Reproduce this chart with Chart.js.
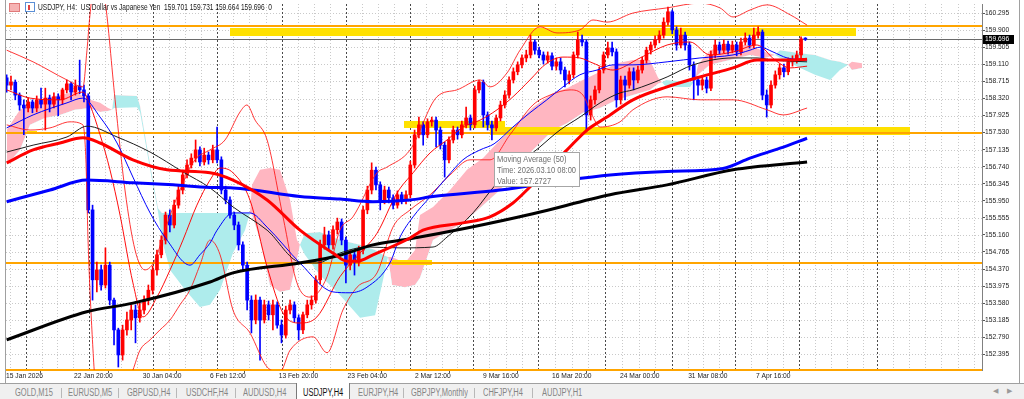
<!DOCTYPE html>
<html>
<head>
<meta charset="utf-8">
<script src="https://cdn.jsdelivr.net/npm/chart.js"></script>
<style>
html,body{margin:0;padding:0;background:#fff;width:1024px;height:399px;overflow:hidden;font-family:'Liberation Sans',Arial,sans-serif}
#wrap{position:absolute;left:0;top:0;width:1024px;height:383px}
#c{position:absolute;left:0;top:0}
#hdr{position:absolute;left:38px;top:2px;font-size:9px;line-height:10px;color:#1a1a1a;white-space:pre;transform-origin:0 0}
.ic1{position:absolute;left:9px;top:3px;width:9px;height:7px;background:#f6b4b4;border:1px solid #e07a7a}
.ic2{position:absolute;left:25px;top:2px;width:8px;height:8px;background:#fff;border:1px solid #5b8fd6}
.ic2 i{position:absolute;left:2px;top:2px;width:2px;height:5px;background:#e04040}
#tabs{position:absolute;left:0;top:383px;width:1024px;height:16px;background:#f0f0f0;border-top:1px solid #a0a0a0}
.tab{position:absolute;top:3px;font-size:10px;line-height:11px;color:#858585;white-space:pre;transform-origin:0 0}
.tab.act{color:#111}
.sep{position:absolute;top:4px;width:1px;height:10px;background:#b8b8b8}
#act{position:absolute;left:296px;top:-1px;width:52px;height:17px;background:#fff;border-left:1px solid #7a7a7a;border-right:1px solid #7a7a7a}
.arr{position:absolute;top:3px;font-size:7px;color:#9a9a9a}
</style>
</head>
<body>
<div id="wrap">
  <canvas id="c" width="1024" height="383"></canvas>
  <div class="ic1"></div><div class="ic2"><i></i></div>
  <div id="hdr"></div>
</div>
<div id="tabs"><div id="act"></div></div>
<script>
// ================= DATA =================
const symbolTitle = 'USDJPY, H4:  US Dollar vs Japanese Yen';
const firstBarIndex = -9;      // H4 bar index of first candle (0 = Mon 19 Jan 00:00)
const barsPerCandle = 2;
const firstOpen = 158.80;
const closes = [
158.63,158.70,158.40,158.17,158.10,158.24,158.10,158.29,158.19,158.33,
158.19,158.36,158.29,158.52,158.66,158.47,158.61,158.52,158.38,155.74,
154.12,154.35,154.00,154.46,153.65,152.96,152.38,152.96,153.19,153.42,
153.24,153.42,153.65,153.88,154.35,154.70,155.04,155.62,155.39,155.85,
156.20,156.55,156.78,156.94,157.13,156.85,157.01,156.90,157.13,156.90,
156.20,155.97,155.62,155.39,154.93,154.46,153.65,153.19,153.65,153.19,
153.54,153.31,153.54,153.07,152.84,153.42,153.54,153.24,152.96,153.31,
153.54,153.65,154.12,154.93,155.16,154.93,155.28,155.46,155.04,154.46,
154.70,154.53,154.81,155.74,156.20,156.66,156.32,155.97,156.20,156.02,
155.85,156.09,155.97,156.09,156.78,157.48,157.71,157.48,157.78,157.82,
157.59,157.24,156.90,157.36,157.59,157.48,157.71,157.87,157.71,158.52,
158.70,157.94,157.71,157.64,157.87,158.17,158.40,158.75,158.94,159.10,
159.26,159.33,159.63,159.44,159.33,159.21,159.31,159.07,159.17,158.98,
158.75,158.87,159.33,159.68,159.63,157.94,158.29,158.52,158.98,159.33,
159.49,159.40,158.29,158.75,158.63,158.94,158.75,158.98,159.21,159.44,
159.56,159.68,159.79,160.09,160.33,159.91,159.56,159.79,159.56,159.10,
158.75,158.63,158.75,158.56,159.33,159.56,159.44,159.58,159.44,159.56,
159.40,159.63,159.72,159.56,159.79,159.86,158.40,158.17,158.63,158.87,
159.03,158.94,159.17,159.21,159.33,159.701,159.696];
const highs = [
158.87,158.84,158.75,158.45,158.29,158.33,158.29,158.38,158.56,158.56,
158.40,158.45,158.43,158.56,158.75,158.70,158.75,159.21,158.63,158.43,
155.85,154.53,154.46,154.86,154.53,153.70,153.00,153.07,153.37,153.54,
153.54,153.58,153.75,154.00,154.44,154.81,155.14,155.69,155.74,155.97,
156.29,156.66,156.90,157.04,157.36,157.20,157.17,157.08,157.24,157.66,
156.97,156.29,156.04,155.69,155.46,155.00,154.53,153.75,153.77,153.72,
153.65,153.63,153.65,153.61,153.19,153.51,153.65,153.61,153.31,153.37,
153.65,153.75,154.21,155.04,155.34,155.25,155.37,155.55,155.53,155.11,
154.81,154.79,154.90,155.83,156.29,156.83,156.73,156.39,156.29,156.27,
156.09,156.18,156.15,156.18,156.87,157.59,157.89,157.78,157.85,157.89,
157.89,157.66,157.31,157.43,157.68,157.66,157.80,158.12,157.94,158.61,
158.75,158.75,158.01,157.80,157.94,158.26,158.50,158.82,159.03,159.17,
159.33,159.44,159.79,159.68,159.51,159.40,159.40,159.38,159.26,159.26,
159.05,158.96,159.40,159.86,159.79,159.68,158.38,158.61,159.05,159.40,
159.63,159.63,159.47,158.84,158.84,159.03,159.03,159.07,159.28,159.51,
159.63,159.77,159.89,160.19,160.44,160.37,159.98,159.95,159.86,159.63,
159.17,158.82,158.84,158.82,159.42,159.68,159.63,159.68,159.65,159.65,
159.63,159.72,159.84,159.79,159.95,159.98,159.91,158.52,158.73,158.96,
159.12,159.12,159.26,159.31,159.42,159.75,159.731];
const lows = [
158.47,158.52,158.29,158.05,157.48,158.01,157.99,158.01,158.10,157.59,
158.01,158.10,157.92,158.19,158.45,158.29,158.40,158.43,158.24,155.67,
153.65,153.84,153.88,153.93,153.54,152.61,152.10,152.26,152.84,152.96,
152.66,153.14,153.33,153.54,153.79,154.23,154.63,154.95,155.23,155.32,
155.78,156.11,156.48,156.71,156.85,156.76,156.78,156.80,156.83,156.83,
156.11,155.88,155.55,155.28,154.81,154.35,153.42,152.89,153.10,152.26,
153.12,153.19,152.96,153.00,152.66,152.77,153.33,153.14,152.73,152.87,
153.24,153.44,153.58,154.02,154.83,154.81,154.83,155.18,154.93,154.05,
154.35,154.23,154.44,154.72,155.65,156.11,156.20,155.74,155.88,155.90,
155.76,155.78,155.88,155.88,156.02,156.71,157.41,157.24,157.41,157.68,
157.20,157.15,156.50,156.83,157.29,157.38,157.41,157.64,157.59,157.64,
158.45,157.66,157.59,157.36,157.57,157.80,158.10,158.33,158.68,158.87,
159.03,159.17,159.26,159.35,159.26,159.12,159.14,158.98,158.98,158.89,
158.59,158.66,158.80,159.26,159.54,157.55,157.82,158.19,158.45,158.91,
159.26,159.31,158.12,158.19,158.29,158.56,158.52,158.68,158.91,159.14,
159.35,159.49,159.61,159.72,160.02,159.82,159.44,159.49,159.44,158.98,
158.29,158.40,158.52,158.45,158.50,159.26,159.35,159.38,159.35,159.38,
159.31,159.33,159.56,159.49,159.49,159.72,158.29,157.89,158.10,158.56,
158.77,158.82,158.87,159.07,159.14,159.26,159.664];

// moving averages (bar index, price)
const maRedX = [-9,3.3,15.8,26.5,34.5,49.8,65.7,85.7,96.4,112.3,127.6,143.0,149.5,154.2,161.6,178.9,184.9,203.5,216.1,226.8,234.7,242.6,252.0,261.3,270.6,282.7,298.6,313.9,329.3,340.5,354.5,363.8];
const maRedY = [156.83,157.13,157.29,157.41,157.29,156.90,156.67,156.60,156.43,155.97,155.27,154.74,154.55,154.55,154.70,155.09,155.27,155.44,155.58,155.90,156.27,156.67,157.13,157.59,157.89,158.29,158.59,158.82,159.03,159.21,159.21,159.23];
const maBlueX = [-9,11.2,28.3,49.8,68.5,85.7,96.4,127.6,146.3,161.6,178.9,189.5,220.8,251.9,272.0,298.6,324.6,337.2,351.2,363.8];
const maBlueY = [155.93,156.20,156.43,156.37,156.32,156.26,156.25,156.05,155.99,155.93,155.97,156.05,156.20,156.43,156.55,156.63,156.70,156.94,157.17,157.40];
const maBlackX = [-9,28.3,49.8,85.7,96.4,127.6,146.3,161.6,178.9,205.4,236.1,272.0,298.6,329.3,363.8];
const maBlackY = [152.73,153.38,153.58,154.07,154.28,154.51,154.69,154.93,155.07,155.32,155.65,156.09,156.32,156.67,156.85];
const ma50X = [-9,3.3,19.1,26.5,34.5,42.4,49.8,57.8,65.7,76.4,81.0,85.7,89.0,96.4,104.3,112.3,127.6,143.0,150.9,158.8,169.5,174.2,180.3,188.2,196.1,203.5,211.5,218.0,226.8,234.7,242.6,250.1,258.0,266.0,273.4,282.7,298.6,313.9,329.3,337.2,341.9,347.9,354.5,363.8];
const ma50Y = [157.64,157.94,158.22,158.33,157.89,157.29,156.50,155.67,155.04,154.46,154.70,154.97,155.27,155.67,155.67,155.34,154.51,153.84,153.82,153.95,154.51,155.11,155.58,156.04,156.50,156.90,157.13,157.27,157.66,157.99,158.29,158.59,158.87,158.98,159.10,159.10,159.17,159.26,159.33,159.44,159.51,159.40,159.26,159.21];
const ma100X = [-9,3.3,19.1,28.4,42.4,57.8,73.1,85.7,96.4,112.3,127.6,135.5,146.2,158.8,174.2,189.6,196.1,208.2,219.4,239.4,248.7,258.0,267.4,276.7,282.7,298.6,310.7,329.3,340.5,347.9,363.8];
const ma100Y = [157.08,157.24,157.43,157.68,157.43,157.08,156.62,156.25,155.81,155.27,154.53,154.51,154.74,154.88,154.86,154.88,155.11,155.67,156.36,157.20,157.59,157.89,158.22,158.45,158.52,158.82,159.10,159.26,159.26,159.21,159.17];
// bollinger bands
const bbUpX = [-9,3.3,19.1,26.5,28.4,29.8,32.1,34.5,36.8,41.5,46.1,50.8,55.4,60.1,64.7,71.7,78.7,85.7,92.7,99.7,102.9,106.7,112.3,119.7,126.2,132.3,140.2,146.2,152.3,163.5,168.1,178.9,191.4,200.7,211.5,216.1,224.0,230.1,239.4,247.3,258.0,264.1,270.6,282.7,298.6,313.9,323.2,329.3,337.2,345.1,355.9,363.8];
const bbUpY = [159.44,159.17,158.75,158.59,159.44,160.26,161.07,161.07,160.60,158.29,156.20,154.81,154.35,154.58,155.27,156.20,156.90,157.13,157.36,158.01,158.17,157.82,157.36,155.58,154.05,153.72,154.19,155.27,155.58,156.60,156.73,157.13,158.36,158.52,158.75,158.59,158.91,159.44,159.98,159.84,159.91,160.14,160.09,160.30,160.42,160.53,160.42,160.21,160.37,160.49,160.26,160.02];
const bbMidX = [-9,1.9,15.8,26.5,29.8,34.5,39.1,43.8,49.8,54.5,61.0,67.1,73.1,79.6,85.7,90.4,96.4,104.3,112.3,119.7,127.6,135.5,146.2,155.6,163.5,172.8,180.3,188.2,196.1,203.5,211.5,219.4,226.8,234.7,242.6,250.1,258.0,264.1,273.4,286.0,298.6,309.3,318.6,329.3,340.5,348.9,355.9,363.8];
const bbMidY = [158.52,158.33,158.29,158.47,158.17,157.48,156.67,155.62,154.05,153.26,153.72,154.35,155.04,155.85,156.43,156.71,156.60,155.97,154.42,153.35,153.12,153.26,154.19,154.74,155.20,156.13,156.60,157.06,157.36,157.66,157.82,158.06,158.36,158.75,159.14,159.28,159.26,159.14,158.98,159.26,159.56,159.63,159.33,159.40,159.56,159.21,159.03,159.07];
const bbLowX = [-9,1.9,11.2,20.5,26.5,27.9,28.9,30.7,32.6,39.1,46.1,49.8,53.1,57.8,62.4,67.1,71.7,76.4,81.0,85.7,90.4,96.4,104.3,112.3,118.3,123.0,133.7,140.2,147.6,154.2,163.5,170.9,178.9,188.2,197.5,206.8,216.1,225.4,236.1,244.1,253.4,259.4,263.6,267.4,276.7,282.7,298.6,313.9,329.3,345.1,352.6,363.8];
const bbLowY = [157.71,157.59,157.64,157.78,157.71,156.90,155.04,152.96,151.57,150.87,151.57,152.03,152.49,152.73,152.96,153.19,153.54,153.89,154.46,155.04,154.70,153.42,152.89,152.10,151.99,152.49,152.80,152.43,153.42,153.95,154.28,155.34,155.74,156.09,156.55,156.90,156.90,157.48,158.17,158.40,158.52,158.40,157.94,157.66,157.78,158.06,158.36,158.29,158.29,158.06,157.94,158.10];
// ichimoku cloud (senkou spans, already shifted forward)
const cloudX = [-9,-2.8,1.9,8.8,15.8,22.8,29.8,34.5,38.2,40.1,41.0,51.7,53.1,55.4,58.7,61.5,63.3,67.1,74.1,81.0,85.7,90.4,96.4,102.0,104.3,105.3,109.0,113.6,118.3,123.0,126.2,127.6,129.9,136.9,146.2,155.6,162.6,166.3,168.6,170.5,176.5,181.2,183.5,189.6,197.5,205.4,212.9,220.8,228.7,236.1,245.5,252.0,259.4,267.4,275.3,282.7,290.6,294.4,296.2,298.1,309.3,311.6,313.0,318.6,327.9,337.2,344.2,348.9,351.2,360.6,367.5,374.5,379.1,382.9,384.7,389.4];
const spanA = [157.59,158.06,158.17,158.33,158.40,158.47,158.29,158.22,158.10,158.06,158.10,158.12,158.01,157.36,156.43,155.69,155.04,154.35,153.89,153.49,153.54,153.89,154.74,155.27,155.67,156.32,156.67,156.71,156.67,155.97,155.04,154.93,154.70,154.23,153.77,153.24,153.30,154.12,154.65,154.65,154.51,154.81,155.62,155.81,156.20,156.67,156.94,157.36,157.75,158.12,158.45,158.56,158.75,158.94,159.14,159.21,159.21,158.80,158.70,158.59,158.59,158.75,159.10,159.44,159.56,159.56,159.40,159.33,159.26,159.03,158.87,158.75,158.98,159.10,159.17,159.14];
const spanB = [156.78,157.13,157.71,157.87,157.94,158.06,158.10,158.01,158.03,158.06,158.40,158.38,158.15,157.48,156.55,155.78,155.67,155.67,155.67,155.67,155.67,155.67,155.67,155.67,155.67,155.62,155.04,154.00,153.84,153.89,154.58,154.93,155.20,155.23,155.04,154.93,154.81,154.70,154.65,154.00,153.95,154.00,154.16,155.04,155.27,155.51,155.85,156.20,156.67,157.13,157.59,157.75,157.99,158.10,158.29,158.40,158.52,158.66,158.70,158.75,158.70,158.75,158.87,159.10,159.21,159.33,159.26,159.33,159.44,159.37,159.33,159.21,159.17,159.10,158.98,159.03];

// axes
const xTickIdx = [-9.3,22.4,54.4,85.7,117.7,149.8,181.2,212.9,245.0,276.7,308.4,340.0];
const xTickLabels = ['15 Jan 2026','22 Jan 20:00','30 Jan 04:00','6 Feb 12:00','13 Feb 20:00','23 Feb 04:00','2 Mar 12:00','9 Mar 16:00','16 Mar 20:00','24 Mar 00:00','31 Mar 08:00','7 Apr 16:00'];
const yTicks = [152.395,152.790,153.185,153.580,153.975,154.370,154.765,155.160,155.555,155.950,156.345,156.740,157.135,157.530,157.925,158.320,158.715,159.110,159.505,159.900,160.295];
const weekSeparators = [0,29.3,59.1,88.9,119.2,149,178.9,208.2,238.5,269.7,300.9,330.2,360,396.4];

// objects
const orangeLevels = [160.00,157.53,154.50,152.04];
const bidPrice = 159.696;
const zoneStart = [95,176,216,0.5,170.5];
const zoneEnd = [386.6,223,411.7,5,189];
const zoneTop = [159.95,157.79,157.65,157.57,154.58];
const zoneBottom = [159.77,157.62,157.47,157.50,154.47];
const tipBar = 218;
const tipValue = 157.2727;
const tipLines = ['Moving Average (50)','Time: 2026.03.10 08:00','Value: 157.2727'];
const tabNames = ['GOLD,M15','EURUSD,M5','GBPUSD,H4','USDCHF,H4','AUDUSD,H4','USDJPY,H4','EURJPY,H4','GBPJPY,Monthly','CHFJPY,H4','AUDJPY,H1'];
const activeTab = 'USDJPY,H4';

// ================= BUILD =================
const opens = closes.map((c, k) => k === 0 ? firstOpen : closes[k - 1]);
const barIdx = closes.map((c, k) => firstBarIndex + k * barsPerCandle);
const candleColor = closes.map((c, k) => c >= opens[k] ? '#ff0000' : '#0000ff');
const pts = (X, Y) => X.map((v, j) => ({x: v, y: Y[j]}));

function hasFont(name) {
  const c = document.createElement('canvas').getContext('2d');
  c.font = '20px monospace'; const w1 = c.measureText('160.295 Jan').width;
  c.font = "20px '" + name + "', monospace"; const w2 = c.measureText('160.295 Jan').width;
  return Math.abs(w1 - w2) > 0.5;
}
const narrow = hasFont('Liberation Sans Narrow');
const axisFont = narrow ? {family: "'Liberation Sans Narrow'", size: 8, lineHeight: 1} : {family: "'Liberation Sans'", size: 6.7, lineHeight: 1};

// header
const hdr = document.getElementById('hdr');
hdr.textContent = symbolTitle + '  ' + opens[opens.length-1].toFixed(3) + ' ' + highs[highs.length-1].toFixed(3) + ' ' +
  lows[lows.length-1].toFixed(3) + ' ' + closes[closes.length-1].toFixed(3) + '  0';
hdr.style.transform = 'scaleX(' + (234 / hdr.getBoundingClientRect().width) + ')';

// tabs
const tabLeft = [15,68,127,186,243,303,358,411,483,542];
const sepLeft = [61,118,176,235,403,474,532];
const tabs = document.getElementById('tabs');
tabNames.forEach((t, j) => {
  const s = document.createElement('span');
  s.className = 'tab' + (t === activeTab ? ' act' : '');
  s.textContent = t; s.style.left = tabLeft[j] + 'px'; s.style.transform = 'scaleX(0.75)';
  tabs.appendChild(s);
});
sepLeft.forEach(l => { const d = document.createElement('div'); d.className = 'sep'; d.style.left = l + 'px'; tabs.appendChild(d); });
[['\u25C0', 993], ['\u25B6', 1007]].forEach(a => { const d = document.createElement('span'); d.className = 'arr'; d.textContent = a[0]; d.style.left = a[1] + 'px'; tabs.appendChild(d); });

const CLOUD_B = 1;
const mtPlugin = {
  id: 'mt',
  beforeDatasetsDraw(chart) {
    const {ctx, chartArea: a, scales: {x, y}} = chart;
    ctx.save();
    ctx.beginPath(); ctx.rect(a.left, a.top, a.right - a.left, a.bottom - a.top); ctx.clip();
    ctx.lineWidth = 1;
    ctx.strokeStyle = '#c9c9c9';
    ctx.setLineDash([1, 2]);
    ctx.beginPath();
    yTicks.forEach(v => { const py = Math.round(y.getPixelForValue(v)) + 0.5; ctx.moveTo(a.left, py); ctx.lineTo(a.right, py); });
    const vl = [];
    for (let j = 0; j < weekSeparators.length; j++) {
      const s = weekSeparators[j];
      const nxt = j + 1 < weekSeparators.length ? weekSeparators[j + 1] : x.max;
      const step = (j + 1 < weekSeparators.length && nxt - s < 33) ? (nxt - s) / 4 : 7.5;
      for (let v = s + step; v < nxt - 1; v += step) vl.push(v);
    }
    for (let v = weekSeparators[0] - 7.5; v > x.min; v -= 7.5) vl.push(v);
    vl.forEach(v => { const px = Math.round(x.getPixelForValue(v)) + 0.5; ctx.moveTo(px, a.top); ctx.lineTo(px, a.bottom); });
    ctx.stroke();
    ctx.strokeStyle = '#4a4a4a';
    ctx.setLineDash([2, 2]);
    ctx.beginPath();
    weekSeparators.forEach(v => { const px = Math.round(x.getPixelForValue(v)) + 0.5; ctx.moveTo(px, a.top); ctx.lineTo(px, a.bottom); });
    ctx.stroke();
    ctx.restore();
  },
  afterDatasetDraw(chart, args) {
    if (args.index !== CLOUD_B) return;
    const {ctx, chartArea: a, scales: {x, y}} = chart;
    ctx.save();
    ctx.beginPath(); ctx.rect(a.left, a.top - 2, a.right - a.left, a.bottom - a.top + 4); ctx.clip();
    ctx.fillStyle = '#ffe100';
    zoneStart.forEach((s, j) => {
      const x0 = x.getPixelForValue(s), x1 = x.getPixelForValue(zoneEnd[j]);
      const y0 = y.getPixelForValue(zoneTop[j]), y1 = y.getPixelForValue(zoneBottom[j]);
      ctx.fillRect(Math.round(x0), Math.round(y0), Math.round(x1 - x0), Math.max(1, Math.round(y1 - y0)));
    });
    ctx.strokeStyle = '#6a6a6a'; ctx.lineWidth = 1;
    const by = Math.round(y.getPixelForValue(bidPrice)) + 0.5;
    ctx.beginPath(); ctx.moveTo(a.left, by); ctx.lineTo(a.right, by); ctx.stroke();
    ctx.strokeStyle = '#ffa500'; ctx.lineWidth = 2;
    orangeLevels.forEach(v => {
      const py = Math.round(y.getPixelForValue(v));
      ctx.beginPath(); ctx.moveTo(a.left, py); ctx.lineTo(a.right, py); ctx.stroke();
    });
    ctx.restore();
  },
  afterDraw(chart) {
    const {ctx, chartArea: a, scales: {x, y}} = chart;
    ctx.save();
    // tooltip box
    const px = Math.round(x.getPixelForValue(tipBar)) + 0.5;
    const py = Math.round(y.getPixelForValue(tipValue) + 8) + 0.5;
    ctx.fillStyle = '#ffffff'; ctx.fillRect(px, py, 85, 34);
    ctx.strokeStyle = '#a6a6a6'; ctx.lineWidth = 1; ctx.strokeRect(px, py, 85, 34);
    ctx.font = "9px 'Liberation Sans'";
    const sx = 79 / ctx.measureText(tipLines[1]).width;
    ctx.fillStyle = '#6e6e6e'; ctx.textBaseline = 'middle'; ctx.textAlign = 'left';
    tipLines.forEach((t, j) => {
      ctx.save(); ctx.translate(px + 2.5, py + 7 + j * 11.2); ctx.scale(sx, 1); ctx.fillText(t, 0, 0); ctx.restore();
    });
    // current price tag
    const ty = Math.round(y.getPixelForValue(bidPrice));
    ctx.fillStyle = '#000'; ctx.fillRect(a.right + 1, ty - 4, 31, 9);
    ctx.fillStyle = '#fff';
    ctx.font = axisFont.size + 'px ' + axisFont.family;
    ctx.fillText(bidPrice.toFixed(3), a.right + 3, ty + 0.5);
    // frame lines
    ctx.strokeStyle = '#a0a0a0'; ctx.lineWidth = 1;
    ctx.beginPath();
    ctx.moveTo(5.5, 0); ctx.lineTo(5.5, 383);
    ctx.moveTo(1019.5, 0); ctx.lineTo(1019.5, 383);
    ctx.stroke();
    ctx.restore();
  }
};

const lineDs = (X, Y, color, width, order) => ({
  type: 'line', data: pts(X, Y), borderColor: color, borderWidth: width, pointRadius: 0,
  cubicInterpolationMode: 'monotone', fill: false, order: order
});

new Chart(document.getElementById('c'), {
  type: 'line',
  data: {
    datasets: [
      { type: 'line', data: pts(cloudX, spanA), borderWidth: 0, borderColor: 'rgba(0,0,0,0)', pointRadius: 0, tension: 0,
        fill: {target: '+1', above: '#ffb6c1', below: '#aeecec'}, order: 100 },
      { type: 'line', data: pts(cloudX, spanB), borderWidth: 0, borderColor: 'rgba(0,0,0,0)', pointRadius: 0, tension: 0,
        fill: false, order: 99 },
      { type: 'bar', data: barIdx.map((v, k) => ({x: v, y: [lows[k], highs[k]]})), backgroundColor: candleColor,
        barThickness: 1, grouped: false, borderWidth: 0, order: 60 },
      { type: 'bar', data: barIdx.map((v, k) => ({x: v, y: [opens[k], closes[k]]})), backgroundColor: candleColor,
        barThickness: 3, minBarLength: 1, grouped: false, borderWidth: 0, order: 59 },
      lineDs(bbUpX, bbUpY, 'rgba(255,20,20,0.85)', 1, 40),
      lineDs(bbMidX, bbMidY, 'rgba(255,0,0,0.95)', 1, 40),
      lineDs(bbLowX, bbLowY, 'rgba(255,20,20,0.85)', 1, 40),
      lineDs(ma100X, ma100Y, '#1c1c1c', 1, 35),
      lineDs(ma50X, ma50Y, '#0000ff', 1, 34),
      lineDs(maBlackX, maBlackY, '#000000', 3, 30),
      lineDs(maBlueX, maBlueY, '#0000ff', 3, 29),
      lineDs(maRedX, maRedY, '#ff0000', 3, 28)
    ]
  },
  options: {
    responsive: false, animation: false, events: [], devicePixelRatio: 1,
    layout: {padding: {left: 6, top: 4, right: 0, bottom: 0}},
    plugins: {legend: {display: false}, tooltip: {enabled: false}},
    scales: {
      x: {
        type: 'linear', min: -9.315, max: 445.27, offset: false,
        grid: {drawOnChartArea: false, drawTicks: true, tickLength: 3, tickColor: '#555'},
        border: {display: true, color: '#808080'},
        ticks: {autoSkip: false, maxRotation: 0, minRotation: 0, align: 'start', padding: 0, color: '#1a1a1a', font: axisFont,
          callback: (v, i) => xTickLabels[i]},
        afterBuildTicks: s => { s.ticks = xTickIdx.map(v => ({value: v})); },
        afterFit: s => { s.height = 13; s.paddingLeft = 0; s.paddingRight = 0; }
      },
      y: {
        type: 'linear', position: 'right', min: 152.031, max: 160.510,
        grid: {drawOnChartArea: false, drawTicks: true, tickLength: 3, tickColor: '#555'},
        border: {display: true, color: '#808080'},
        ticks: {padding: 0, color: '#1a1a1a', font: axisFont, callback: v => Number(v).toFixed(3)},
        afterBuildTicks: s => { s.ticks = yTicks.map(v => ({value: v})); },
        afterFit: s => { s.width = 42; s.paddingTop = 0; s.paddingBottom = 0; }
      }
    }
  },
  plugins: [mtPlugin]
});
</script>
</body>
</html>
